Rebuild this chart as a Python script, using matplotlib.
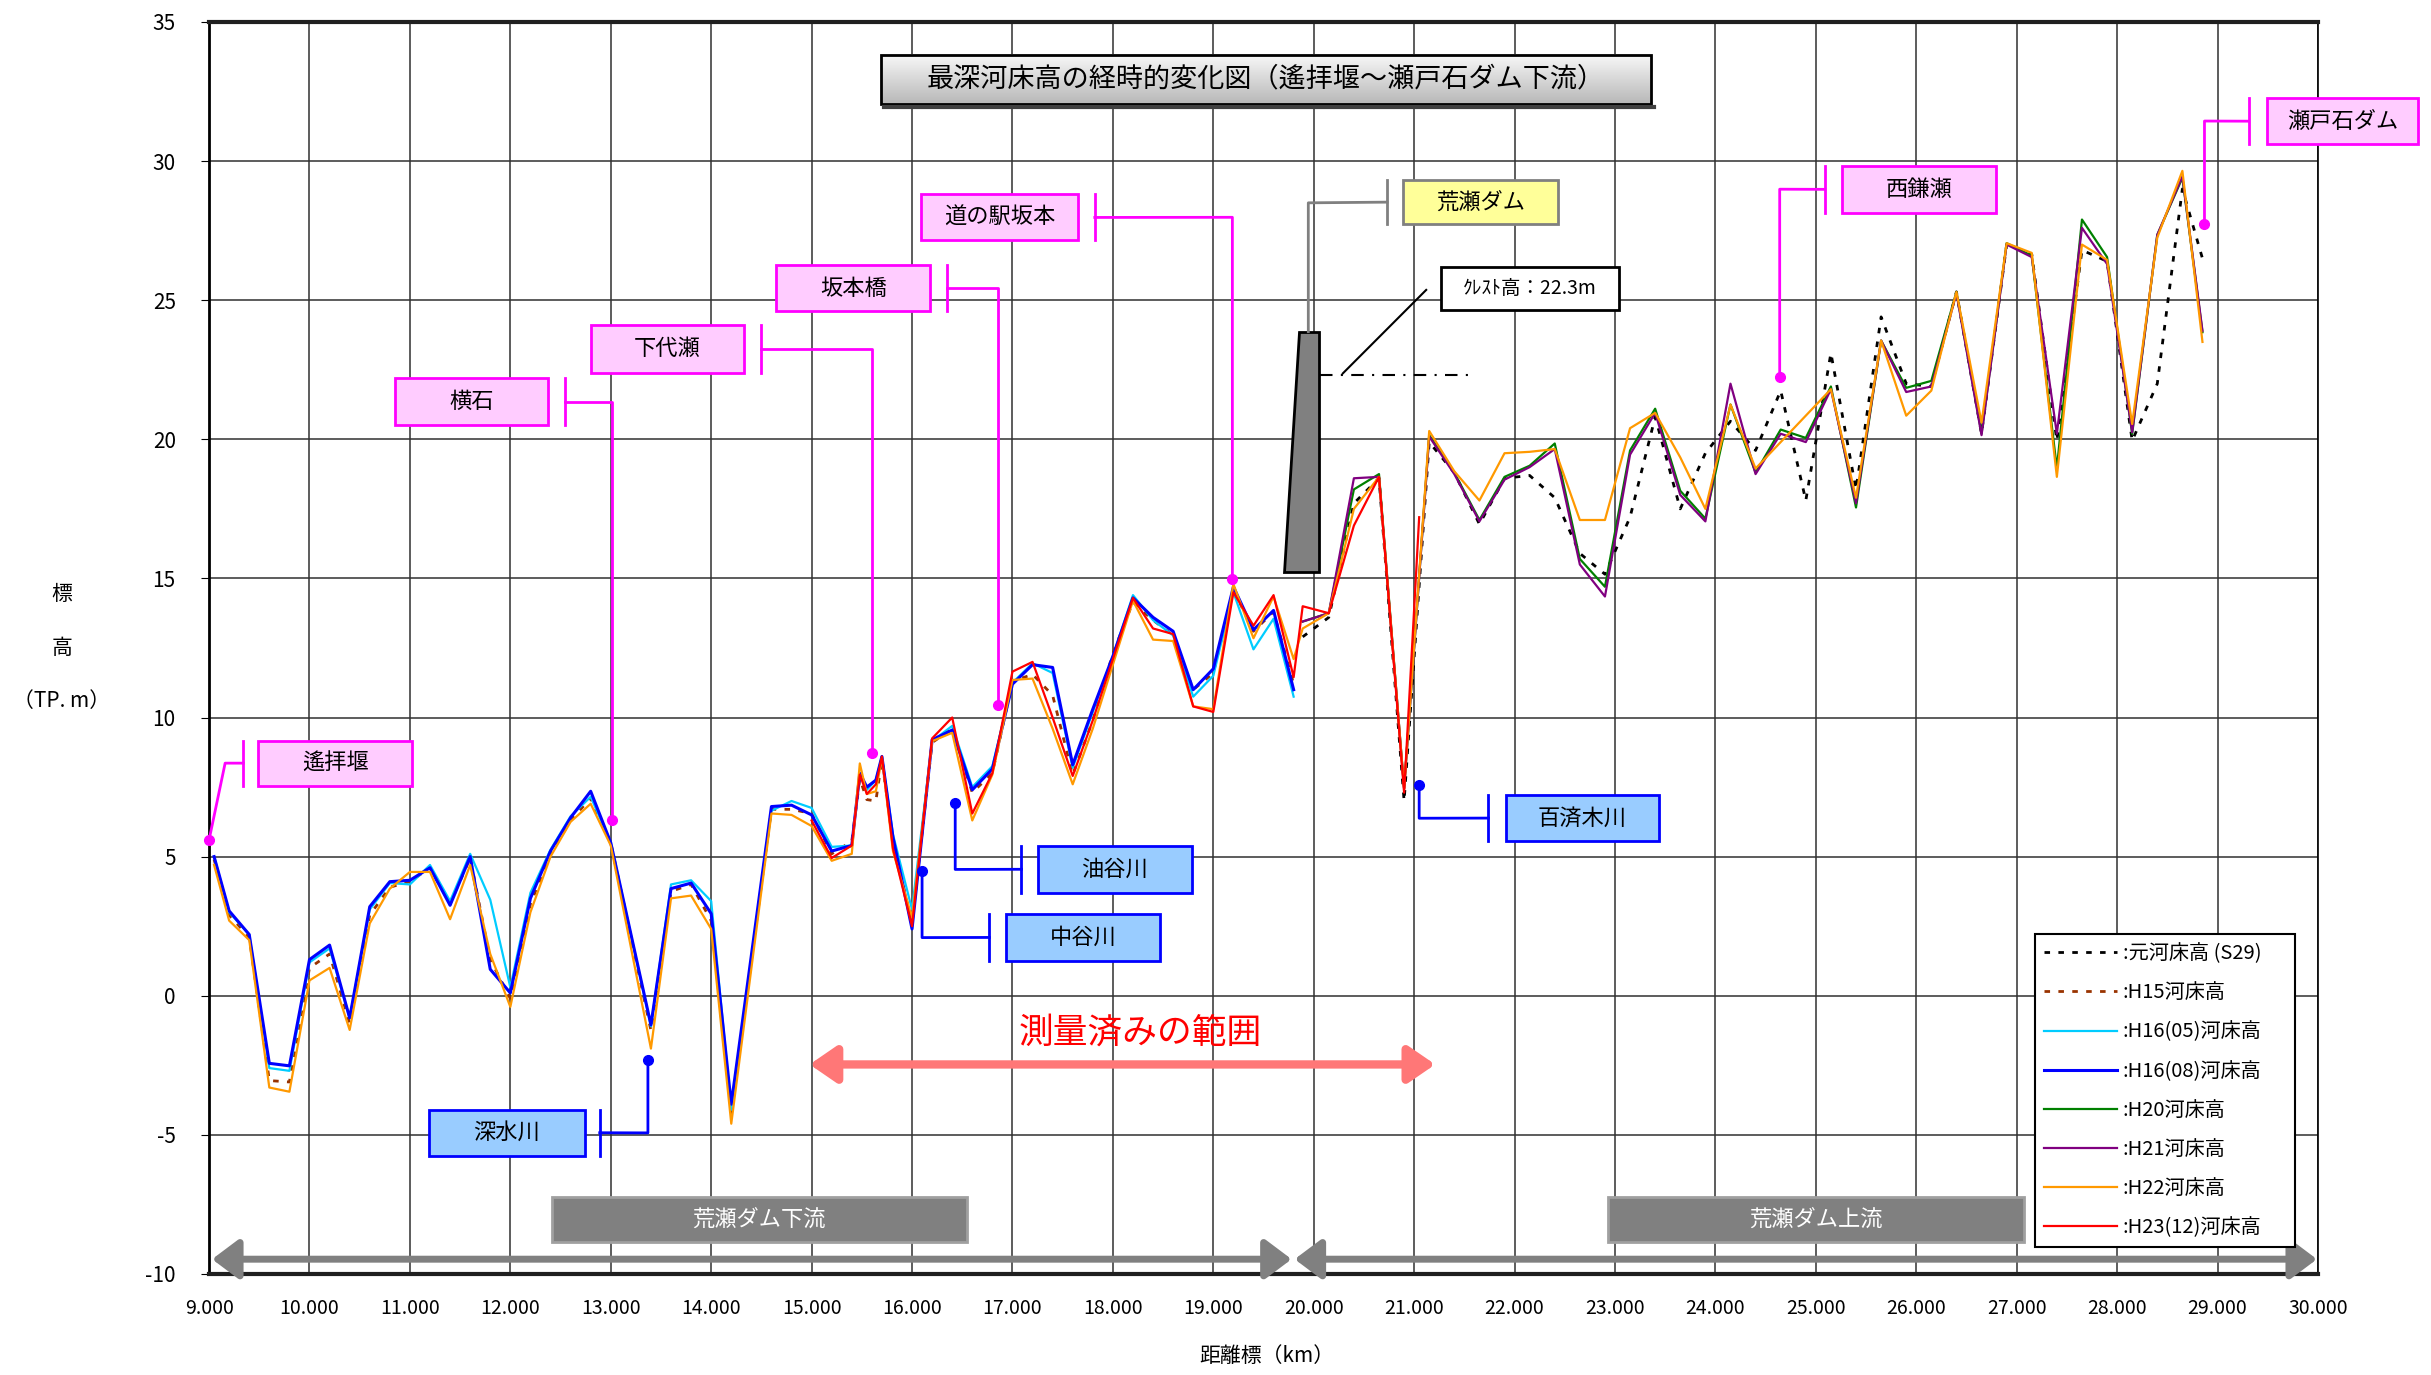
import numpy as np
import matplotlib.pyplot as plt
from matplotlib.patches import Rectangle, Polygon
from matplotlib.lines import Line2D

plt.rcParams['font.family'] = ['Noto Sans CJK JP', 'DejaVu Sans']
plt.rcParams['axes.unicode_minus'] = False

NA = np.nan

# ── 距離標 (km) ────────────────────────────────────────────────────────────────
# 荒瀬ダム下流側の測線
DIST_DOWN = [9.05, 9.2, 9.4, 9.6, 9.8, 10.0, 10.2, 10.4,
             10.6, 10.8, 11.0, 11.2, 11.4, 11.6, 11.8, 12.0,
             12.2, 12.4, 12.6, 12.8, 13.0, 13.4, 13.6, 13.8, 14.0,
             14.2, 14.6, 14.8, 15.0, 15.2, 15.4, 15.48, 15.55, 15.64, 15.7, 15.81,
             16.0, 16.2, 16.4, 16.6, 16.8, 17.0, 17.2, 17.4, 17.6, 17.8,
             18.0, 18.2, 18.4, 18.6, 18.8, 19.0, 19.2, 19.4, 19.6, 19.8]
# 荒瀬ダム上流側の測線
DIST_UP = [19.89, 20.15, 20.4, 20.65, 20.9, 21.05, 21.15, 21.4, 21.65, 21.9,
           22.15, 22.4, 22.65, 22.9, 23.15, 23.4, 23.65, 23.9, 24.15, 24.4,
           24.65, 24.9, 25.15, 25.4, 25.65, 25.9, 26.15, 26.4, 26.65, 26.9,
           27.15, 27.4, 27.65, 27.9, 28.15, 28.4, 28.65, 28.85]

# ── 最深河床高 (TP.m) 下流側 ───────────────────────────────────────────────────
H15_DOWN = [4.9, 2.9, 2.1, -3.05, -3.1, 1.0, 1.5, -1.0,
            2.9, 3.9, 4.1, 4.6, 3.3, 4.95, 1.3, -0.1,
            3.3, 5.1, 6.3, 7.1, 5.5, -1.25, 3.75, 4.0, 2.7,
            -4.2, 6.7, 6.7, 6.55, 5.1, 5.55, 7.8, 7.05, 7.0, 8.5, 5.5,
            2.6, 9.1, 9.6, 7.3, 8.0, 11.3, 11.55, 10.8, 7.95, 9.9,
            12.3, 14.15, 13.5, 12.95, 11.0, 11.6, 14.6, 13.1, 13.8, 11.2]
H16_05_DOWN = [5.0, 3.0, 2.2, -2.6, -2.7, 1.2, 1.7, -0.8,
               3.1, 4.05, 4.0, 4.7, 3.4, 5.1, 3.45, 0.3,
               3.7, 5.25, 6.45, 7.15, 5.5, -1.1, 4.0, 4.15, 3.4,
               -4.1, 6.65, 7.0, 6.75, 5.35, 5.4, 8.0, 7.4, 7.75, 8.6, 5.8,
               3.1, 9.15, 9.7, 7.5, 8.25, 11.25, 11.95, 11.6, 8.2, 10.2,
               12.2, 14.4, 13.5, 12.95, 10.75, 11.5, 14.5, 12.45, 13.55, 10.75]
H16_08_DOWN = [5.0, 3.05, 2.2, -2.43, -2.52, 1.3, 1.82, -0.8,
               3.2, 4.1, 4.15, 4.6, 3.25, 5.0, 0.95, 0.1,
               3.5, 5.2, 6.4, 7.35, 5.5, -1.05, 3.85, 4.05, 2.95,
               -3.9, 6.8, 6.85, 6.5, 5.2, 5.4, 8.0, 7.5, 7.75, 8.6, 5.7,
               2.4, 9.2, 9.55, 7.4, 8.15, 11.2, 11.9, 11.8, 8.3, 10.3,
               12.2, 14.3, 13.6, 13.1, 11.0, 11.75, 14.7, 13.15, 13.85, 11.0]
H22_DOWN = [4.7, 2.7, 2.0, -3.3, -3.45, 0.55, 1.0, -1.23,
            2.6, 3.85, 4.45, 4.45, 2.75, 4.7, 1.5, -0.4,
            3.0, 5.0, 6.25, 6.9, 5.4, -1.9, 3.5, 3.6, 2.4,
            -4.6, 6.55, 6.5, 6.1, 4.85, 5.1, 8.35, 7.25, 7.35, 8.55, 5.2,
            2.8, 9.15, 9.45, 6.3, 7.95, 11.35, 11.4, 9.6, 7.6, 9.6,
            11.9, 14.2, 12.8, 12.75, 10.4, 10.3, 14.8, 12.85, 14.35, 12.1]
H23_DOWN = [NA, NA, NA, NA, NA, NA, NA, NA,
            NA, NA, NA, NA, NA, NA, NA, NA,
            NA, NA, NA, NA, NA, NA, NA, NA, NA,
            NA, NA, NA, 6.3, 4.95, 5.4, 7.95, 7.25, 7.6, 8.6, 5.3,
            2.5, 9.25, 10.0, 6.55, 8.0, 11.65, 12.0, 10.0, 7.9, 9.9,
            12.1, 14.3, 13.2, 13.0, 10.4, 10.2, 14.5, 13.3, 14.4, 11.45]

# ── 最深河床高 (TP.m) 上流側 ───────────────────────────────────────────────────
S29_UP = [12.9, 13.6, 17.7, 18.6, 7.0, NA, 19.9, 18.8, 16.95, 18.6,
          18.7, 17.9, 15.9, 15.15, 17.2, 20.8, 17.5, 19.5, 20.65, 19.6,
          21.75, 17.8, 23.1, 18.2, 24.4, 22.0, 21.9, 25.3, 20.2, 27.0,
          26.65, 19.95, 26.8, 26.4, 19.95, 22.0, 29.0, 26.5]
H20_UP = [13.45, 13.75, 18.2, 18.75, 7.45, NA, 20.15, 18.8, 17.1, 18.65,
          19.05, 19.85, 15.7, 14.7, 19.6, 21.1, 18.15, 17.15, 21.25, 18.8,
          20.35, 20.05, 21.9, 17.55, 23.55, 21.85, 22.1, 25.3, 20.2, 27.05,
          26.6, 18.95, 27.9, 26.55, 20.2, 27.35, 29.4, 23.85]
H21_UP = [13.45, 13.75, 18.6, 18.65, 7.45, NA, 20.1, 18.75, 17.05, 18.55,
          19.0, 19.65, 15.5, 14.35, 19.45, 20.95, 18.0, 17.05, 22.0, 18.75,
          20.2, 19.9, 21.8, 17.7, 23.55, 21.7, 21.9, 25.25, 20.15, 27.0,
          26.55, 20.2, 27.6, 26.3, 20.25, 27.35, 29.45, 23.9]
H22_UP = [13.2, 13.75, 17.5, 18.65, 7.45, NA, 20.3, 18.85, 17.8, 19.5,
          19.55, 19.65, 17.1, 17.1, 20.4, 20.95, 19.35, 17.5, 21.25, 18.95,
          19.9, 20.85, 21.8, 17.9, 23.55, 20.85, 21.75, 25.3, 20.6, 27.05,
          26.7, 18.65, 27.0, 26.45, 20.55, 27.25, 29.65, 23.5]
H23_UP = [14.0, 13.75, 16.9, 18.65, 7.3, 17.2] + [NA] * 32

NA_DOWN = [NA] * len(DIST_DOWN)
NA_UP = [NA] * len(DIST_UP)
DIST = DIST_DOWN + DIST_UP

SERIES = [
    (":元河床高 (S29)",     NA_DOWN + S29_UP,      "black",   (0, (2, 3)),    2.0),
    (":H15河床高",          H15_DOWN + NA_UP,      "#993300", (0, (2, 3)),    2.0),
    (":H16(05)河床高",      H16_05_DOWN + NA_UP,   "#00CCFF", "-",            1.6),
    (":H16(08)河床高",      H16_08_DOWN + NA_UP,   "#0000FF", "-",            2.2),
    (":H20河床高",          NA_DOWN + H20_UP,      "#008000", "-",            1.6),
    (":H21河床高",          NA_DOWN + H21_UP,      "#800080", "-",            1.6),
    (":H22河床高",          H22_DOWN + H22_UP,     "#FF9900", "-",            1.6),
    (":H23(12)河床高",      H23_DOWN + H23_UP,     "#FF0000", "-",            1.6),
]

MAGENTA = "#FF00FF"
BLUE = "#0000FF"


def tag(ax, x0, x1, y0, y1, text, face, edge, fs=16, color="black"):
    ax.add_patch(Rectangle((x0, y0), x1 - x0, y1 - y0, facecolor=face,
                           edgecolor=edge, lw=2, zorder=8, clip_on=False))
    ax.text((x0 + x1) / 2, (y0 + y1) / 2, text, ha="center", va="center",
            fontsize=fs, color=color, zorder=9, clip_on=False)


def leader(ax, bar_x, y0, y1, pts, color, dot=True):
    ax.plot([bar_x, bar_x], [y0, y1], color=color, lw=2, zorder=7, clip_on=False)
    xs = [bar_x] + [p[0] for p in pts]
    ys = [(y0 + y1) / 2] + [p[1] for p in pts]
    ax.plot(xs, ys, color=color, lw=2, zorder=7, clip_on=False)
    if dot:
        ax.plot(xs[-1], ys[-1], "o", color=color, ms=7, zorder=7, clip_on=False)


fig = plt.figure(figsize=(24.31, 13.75), dpi=100)
ax = fig.add_axes([0.086, 0.0735, 0.8675, 0.9105])

x = np.array(DIST)
for label, vals, col, ls, lw in SERIES:
    y = np.array(vals, dtype=float)
    m = ~np.isnan(y)
    ax.plot(x[m], y[m], color=col, linestyle=ls, lw=lw, label=label, zorder=4)

ax.set_xlim(9, 30)
ax.set_ylim(-10, 35)
ax.set_xticks(np.arange(9, 31, 1))
ax.set_xticklabels([f"{v:.3f}" for v in np.arange(9, 31, 1)], fontsize=14)
ax.set_yticks(np.arange(-10, 36, 5))
ax.set_yticklabels([str(v) for v in range(-10, 36, 5)], fontsize=15)
ax.tick_params(axis="x", length=0, pad=17)
ax.tick_params(axis="y", direction="out", length=6, pad=18)
ax.grid(True, color="#303030", lw=1.1)
ax.set_axisbelow(True)
for side in ("top", "bottom"):
    ax.spines[side].set_linewidth(3)
    ax.spines[side].set_color("#202020")
ax.spines["left"].set_linewidth(2)
ax.spines["right"].set_linewidth(1.2)

# タイトル (グラデーション付きの枠)
tx0, tx1, ty0, ty1 = 15.69, 23.36, 32.05, 33.83
grad = np.linspace(0.97, 0.72, 64).reshape(-1, 1)
ax.imshow(grad, extent=(tx0, tx1, ty0, ty1), cmap="gray", vmin=0, vmax=1,
          aspect="auto", origin="upper", zorder=5)
ax.add_patch(Rectangle((tx0, ty0), tx1 - tx0, ty1 - ty0, facecolor="none",
                       edgecolor="black", lw=2, zorder=6))
ax.plot([tx0 + 0.03, tx1 + 0.03], [ty0 - 0.12, ty0 - 0.12], color="#404040", lw=3, zorder=6)
ax.text((tx0 + tx1) / 2, (ty0 + ty1) / 2, "最深河床高の経時的変化図（遙拝堰～瀬戸石ダム下流）",
        ha="center", va="center", fontsize=19.5, zorder=7)
ax.set_xlim(9, 30)
ax.set_ylim(-10, 35)

# 地点名
PINK, PINK_EDGE = "#FFCCFF", MAGENTA
tag(ax, 9.49, 11.02, 7.55, 9.17, "遙拝堰", PINK, PINK_EDGE)
leader(ax, 9.34, 7.55, 9.17, [(9.16, 8.36), (9.0, 5.6)], MAGENTA)
tag(ax, 10.85, 12.38, 20.5, 22.2, "横石", PINK, PINK_EDGE)
leader(ax, 12.54, 20.5, 22.2, [(13.01, 21.35), (13.01, 6.3)], MAGENTA)
tag(ax, 12.8, 14.33, 22.4, 24.1, "下代瀬", PINK, PINK_EDGE)
leader(ax, 14.5, 22.4, 24.1, [(15.6, 23.25), (15.6, 8.74)], MAGENTA)
tag(ax, 14.65, 16.18, 24.6, 26.26, "坂本橋", PINK, PINK_EDGE)
leader(ax, 16.35, 24.6, 26.26, [(16.86, 25.43), (16.86, 10.45)], MAGENTA)
tag(ax, 16.09, 17.65, 27.15, 28.8, "道の駅坂本", PINK, PINK_EDGE)
leader(ax, 17.82, 27.15, 28.8, [(19.19, 27.98), (19.19, 14.97)], MAGENTA)
tag(ax, 25.26, 26.79, 28.15, 29.82, "西鎌瀬", PINK, PINK_EDGE)
leader(ax, 25.09, 28.15, 29.82, [(24.64, 28.99), (24.64, 22.25)], MAGENTA)
tag(ax, 29.49, 31.0, 30.6, 32.27, "瀬戸石ダム", PINK, PINK_EDGE)
leader(ax, 29.31, 30.6, 32.27, [(28.87, 31.44), (28.87, 27.74)], MAGENTA)

# 支川
SKY = "#99CCFF"
tag(ax, 11.19, 12.74, -5.76, -4.09, "深水川", SKY, BLUE)
leader(ax, 12.89, -5.76, -4.09, [(13.37, -4.93), (13.37, -2.31)], BLUE)
tag(ax, 16.94, 18.47, 1.26, 2.93, "中谷川", SKY, BLUE)
leader(ax, 16.77, 1.26, 2.93, [(16.1, 2.09), (16.1, 4.5)], BLUE)
tag(ax, 17.25, 18.79, 3.71, 5.38, "油谷川", SKY, BLUE)
leader(ax, 17.09, 3.71, 5.38, [(16.43, 4.54), (16.43, 6.93)], BLUE)
tag(ax, 21.91, 23.44, 5.55, 7.22, "百済木川", SKY, BLUE)
leader(ax, 21.74, 5.55, 7.22, [(21.05, 6.38), (21.05, 7.58)], BLUE)

# 荒瀬ダム
ax.add_patch(Polygon([(19.857, 23.87), (20.056, 23.87), (20.056, 15.24), (19.707, 15.24)],
                     closed=True, facecolor="#808080", edgecolor="black", lw=2, zorder=6))
tag(ax, 20.89, 22.43, 27.73, 29.32, "荒瀬ダム", "#FFFF99", "#808080")
leader(ax, 20.73, 27.73, 29.32, [(19.946, 28.5), (19.946, 23.87)], "#808080", dot=False)
ax.plot([20.06, 21.62], [22.3, 22.3], color="black", lw=1.5, linestyle=(0, (6, 4, 1, 4)), zorder=6)
ax.plot([20.29, 21.12], [22.37, 25.37], color="black", lw=1.5, zorder=6)
tag(ax, 21.27, 23.04, 24.65, 26.2, "ｸﾚｽﾄ高：22.3m", "white", "black", fs=14)

# 測量済みの範囲
ax.annotate("", xy=(21.21, -2.47), xytext=(14.98, -2.47), zorder=6,
            arrowprops=dict(arrowstyle="<|-|>,head_length=0.8,head_width=0.55",
                            mutation_scale=20, lw=6, color="#FF7777",
                            shrinkA=0, shrinkB=0))
ax.text(18.27, -1.35, "測量済みの範囲", color="#FF0000", fontsize=25,
        ha="center", va="center", zorder=7)

# 下流・上流区分
tag(ax, 12.41, 16.55, -8.85, -7.22, "荒瀬ダム下流", "#808080", "#A0A0A0", color="white")
tag(ax, 22.93, 27.07, -8.85, -7.22, "荒瀬ダム上流", "#808080", "#A0A0A0", color="white")
for xa, xb in ((9.03, 19.78), (19.81, 29.99)):
    ax.annotate("", xy=(xb, -9.47), xytext=(xa, -9.47), zorder=6,
                arrowprops=dict(arrowstyle="<|-|>,head_length=0.8,head_width=0.6",
                                mutation_scale=20, lw=5, color="#808080",
                                shrinkA=0, shrinkB=0))

handles = [Line2D([], [], color=c, linestyle=ls, lw=lw) for _, _, c, ls, lw in SERIES]
labels = [s[0] for s in SERIES]
leg = ax.legend(handles, labels, loc="lower left", bbox_to_anchor=(0.866, 0.0213, 0.123, 0.249),
                mode="expand", fontsize=14.5, handlelength=3.6, handletextpad=0.3,
                labelspacing=0.9, fancybox=False, framealpha=1, edgecolor="black",
                borderpad=0.45, borderaxespad=0)
leg.get_frame().set_linewidth(1.5)
leg.set_zorder(10)

fig.text(1267 / 2431, 1 - 1356 / 1375, "距離標（km）", fontsize=15, ha="center", va="center")
fig.text(62 / 2431, 1 - 594 / 1375, "標", fontsize=15, ha="center", va="center")
fig.text(62 / 2431, 1 - 648 / 1375, "高", fontsize=15, ha="center", va="center")
fig.text(62 / 2431, 1 - 701 / 1375, "（TP. m）", fontsize=15, ha="center", va="center")

fig.savefig("out.png", dpi=100)
